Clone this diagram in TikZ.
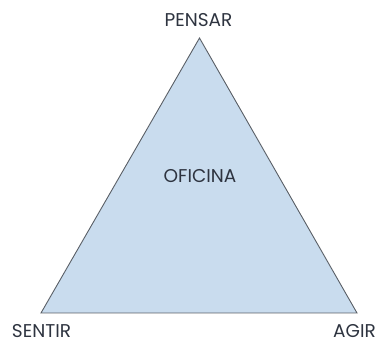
\documentclass[tikz,border=0pt]{standalone}
\usepackage{fontspec}
\setmainfont{Poppins}
\definecolor{tri}{HTML}{C9DCEE}
\definecolor{edge}{HTML}{5A5F66}
\definecolor{txt}{HTML}{2E3440}
\begin{document}
\begin{tikzpicture}[x=1pt,y=-1pt,
  lbl/.style={font=\fontsize{18.5}{20}\selectfont, text=txt, inner sep=0pt}]
\useasboundingbox (0,0) rectangle (381,342);
\coordinate (top) at (199.5,38);
\coordinate (bl) at (41,313);
\coordinate (br) at (357,313);
\draw[edge, fill=tri, line width=0.9pt, line join=miter] (top) -- (bl) -- (br) -- cycle;
\node[lbl] (pensar) at (198.5,20.5) {PENSAR};
\node[lbl] (sentir) at (41.5,331.5) {SENTIR};
\node[lbl] (agir) at (354.5,331.5) {AGIR};
\node[lbl] (oficina) at (200,176.5) {OFICINA};
\end{tikzpicture}
\end{document}
